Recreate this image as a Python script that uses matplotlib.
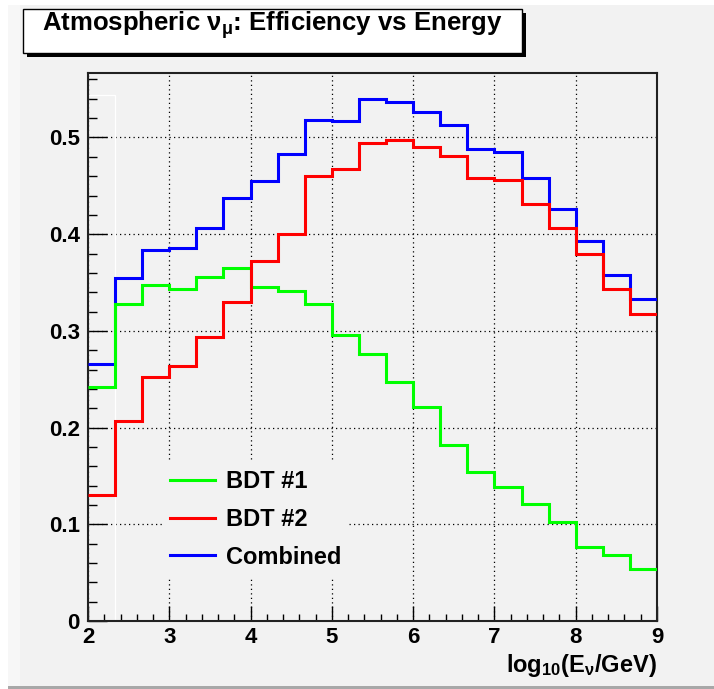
import numpy as np
import matplotlib
matplotlib.use("Agg")
from matplotlib import pyplot as plt
from matplotlib.patches import Rectangle
from matplotlib.ticker import MultipleLocator, FuncFormatter

# bins in log10(E_nu / GeV)
edges = np.linspace(2, 9, 22)

# selection efficiency per bin
bdt1 = [0.2425, 0.3276, 0.347, 0.343, 0.356, 0.365, 0.345, 0.341, 0.3276, 0.296, 0.2766,
        0.2476, 0.2208, 0.182, 0.1546, 0.1387, 0.1208, 0.1019, 0.0766, 0.068, 0.0536]
bdt2 = [0.130, 0.2066, 0.2528, 0.2635, 0.294, 0.330, 0.3728, 0.4007, 0.4597, 0.467, 0.4938,
        0.4975, 0.4903, 0.481, 0.4586, 0.456, 0.4317, 0.406, 0.380, 0.343, 0.317]
combined = [0.2656, 0.3545, 0.3835, 0.386, 0.406, 0.437, 0.4545, 0.483, 0.5186, 0.517, 0.5396,
            0.537, 0.5265, 0.5134, 0.4886, 0.485, 0.4586, 0.4259, 0.393, 0.358, 0.3335]
# empty white frame histogram left over in the first bin
frame_hist = [0.544]

labels = ["BDT #1", "BDT #2", "Combined"]
colors = ["#00ff00", "#ff0000", "#0000ff"]
title = r"Atmospheric $\mathrm{\nu}_{\mathrm{\mu}}$: Efficiency vs Energy"
xlabel = r"log$_{\mathbf{10}}$(E$_{\mathrm{\nu}}$/GeV)"

plt.rcParams["font.family"] = ["Liberation Sans", "DejaVu Sans"]
plt.rcParams["font.weight"] = "bold"
plt.rcParams["mathtext.fontset"] = "custom"
plt.rcParams["mathtext.rm"] = "Liberation Sans"
plt.rcParams["mathtext.it"] = "Liberation Sans:italic"
plt.rcParams["mathtext.bf"] = "Liberation Sans:bold"

W, H = 714, 689
BG = "#f2f2f2"
fig = plt.figure(figsize=(W / 100, H / 100), dpi=100)
fig.patch.set_facecolor("white")


def px_rect(x0, y0, x1, y1, **kw):
    # rectangle given in pixels from the top-left corner
    return Rectangle((x0 / W, 1 - y1 / H), (x1 - x0) / W, (y1 - y0) / H,
                     transform=fig.transFigure, **kw)


# canvas background
fig.add_artist(px_rect(8, 5, W, 686, facecolor=BG, edgecolor="none", zorder=-10))
fig.add_artist(px_rect(8, 5, 20, 686, facecolor="#f7f7f7", edgecolor="none", zorder=-9))
fig.add_artist(px_rect(8, 686, W, H, facecolor="#a8a8a8", edgecolor="none", zorder=-9))

ax = fig.add_axes([88 / W, 1 - 621 / H, 569 / W, 548 / H])
ax.set_facecolor(BG)

ax.stairs(frame_hist, edges[:2], baseline=0, color="white", lw=0.9, zorder=1)
ax.stairs(combined, edges, baseline=None, color=colors[2], lw=2.2, zorder=3, label=labels[2])
ax.stairs(bdt1, edges, baseline=None, color=colors[0], lw=2.2, zorder=4, label=labels[0])
ax.stairs(bdt2, edges, baseline=None, color=colors[1], lw=2.2, zorder=5, label=labels[1])

ax.set_xlim(2, 9)
ax.set_ylim(0, 0.5667)

ax.xaxis.set_major_locator(MultipleLocator(1))
ax.xaxis.set_minor_locator(MultipleLocator(0.2))
ax.yaxis.set_major_locator(MultipleLocator(0.1))
ax.yaxis.set_minor_locator(MultipleLocator(0.02))
ax.yaxis.set_major_formatter(FuncFormatter(lambda v, _: "0" if abs(v) < 1e-9 else f"{v:g}"))
ax.xaxis.set_major_formatter(FuncFormatter(lambda v, _: f"{v:g}"))

ax.tick_params(axis="both", which="both", direction="in", top=False, right=False,
               colors="black", width=1.0, labelsize=16)
ax.tick_params(axis="y", which="major", length=13.5, pad=6)
ax.tick_params(axis="y", which="minor", length=6.5)
ax.tick_params(axis="x", which="major", length=11, pad=4)
ax.tick_params(axis="x", which="minor", length=5)
for lab in ax.get_xticklabels() + ax.get_yticklabels():
    lab.set_fontweight("bold")

ax.grid(True, which="major", color="black", linestyle=(0, (1, 2.6)), linewidth=0.9)
ax.set_axisbelow(True)
for sp in ax.spines.values():
    sp.set_linewidth(1.5)
    sp.set_color("#222222")

handles, labs = ax.get_legend_handles_labels()
order = [labs.index(l) for l in labels]
leg = ax.legend([handles[i] for i in order], [labs[i] for i in order],
                loc="upper left", bbox_to_anchor=(0.13, 0.29), borderaxespad=0,
                frameon=True, fancybox=False, facecolor=BG, edgecolor="none", framealpha=1,
                prop={"weight": "bold", "size": 17}, handlelength=1.9, handletextpad=0.45,
                labelspacing=0.62, borderpad=0.35)
for line in leg.get_lines():
    line.set_linewidth(2.2)

ax.set_xlabel(xlabel, fontsize=17, fontweight="bold", ha="right")
ax.xaxis.set_label_coords(1.0, -0.056)

# title box with drop shadow
fig.add_artist(px_rect(27, 13, 526, 57, facecolor="black", edgecolor="none", zorder=5))
fig.add_artist(px_rect(23, 9, 522, 53, facecolor="white", edgecolor="black", lw=1.0, zorder=6))
fig.text(42 / W, 1 - 25 / H, title, fontsize=18.5, fontweight="bold",
         ha="left", va="center", zorder=7)

fig.savefig("out.png", dpi=100, facecolor=fig.get_facecolor())
